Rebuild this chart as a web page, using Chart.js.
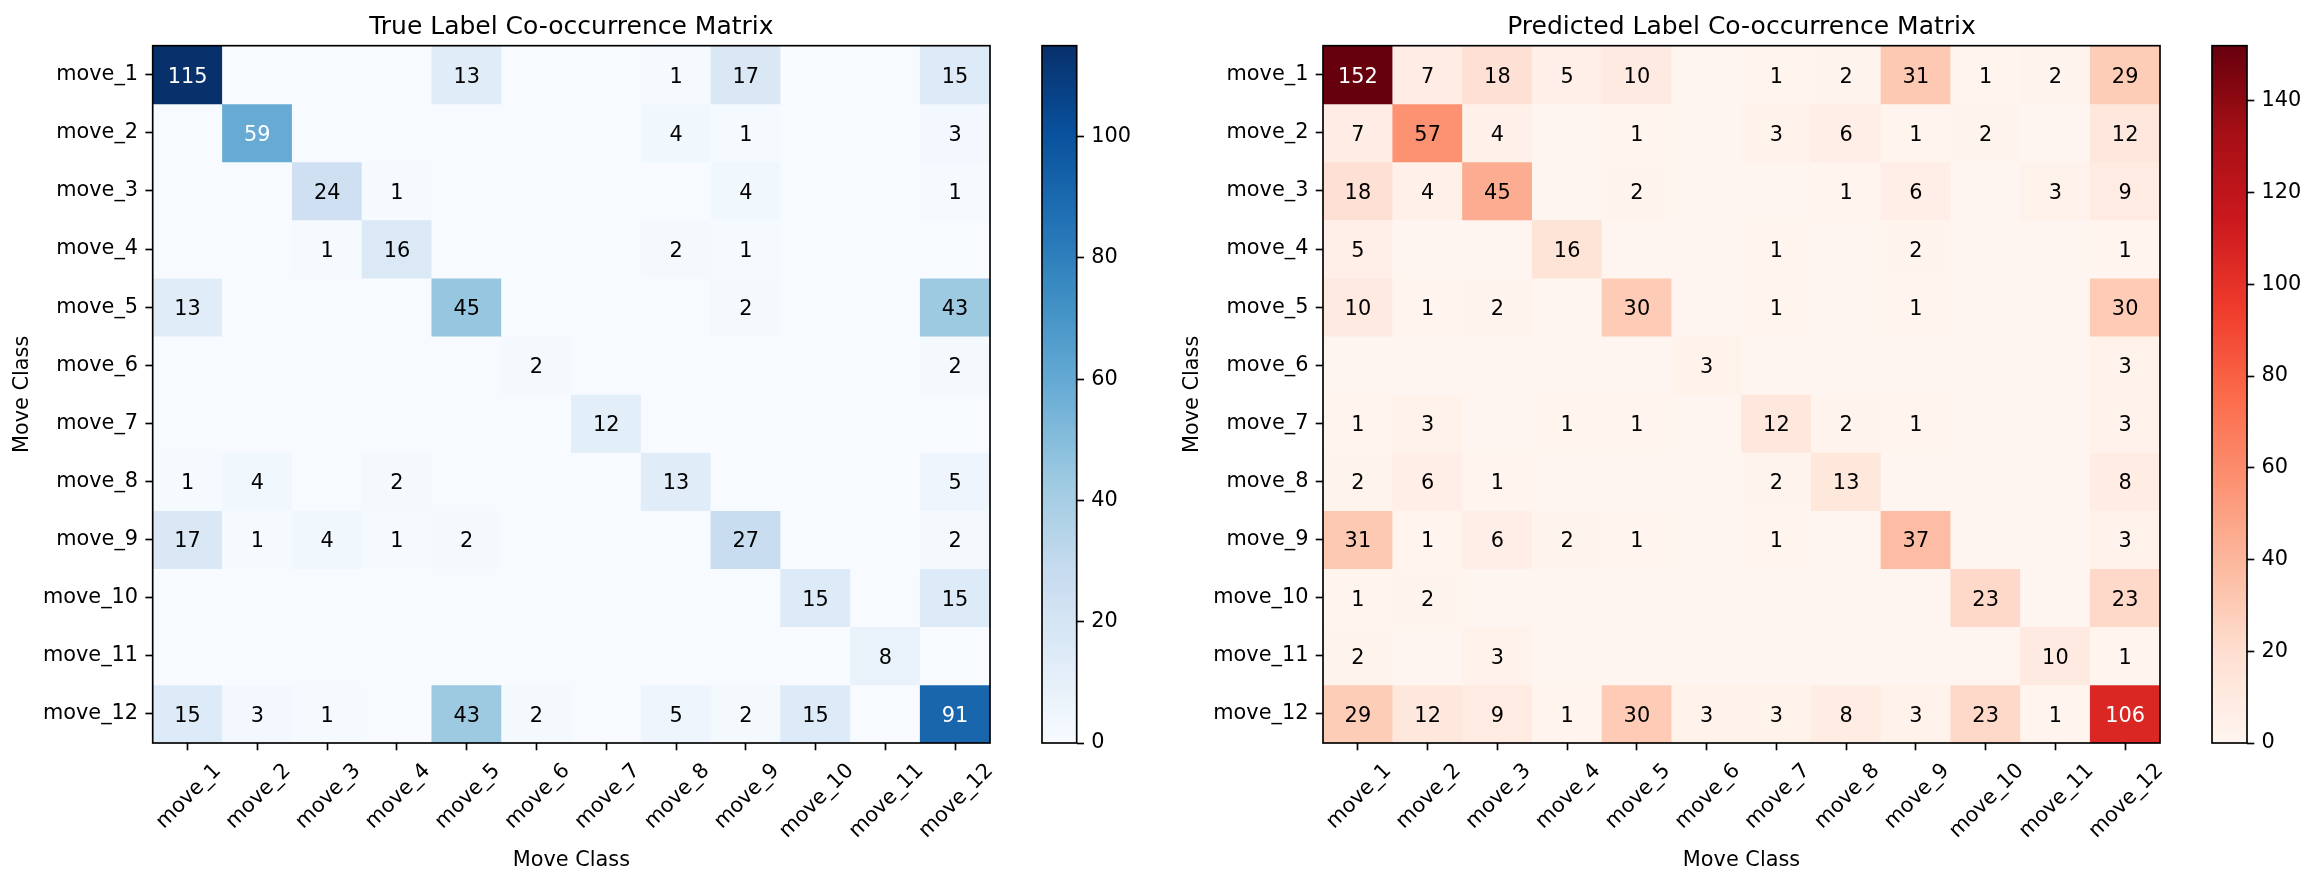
<!DOCTYPE html>
<html>
<head>
<meta charset="utf-8">
<title>Label Co-occurrence Matrices</title>
<script src="https://cdn.jsdelivr.net/npm/chart.js@4.4.1/dist/chart.umd.min.js"></script>
<style>
  html, body { margin: 0; padding: 0; background: #fff; }
  #wrap { position: relative; width: 2316px; height: 884px; overflow: hidden; }
  .box { position: absolute; top: 0; height: 884px; }
</style>
</head>
<body>
<div id="wrap">
  <div class="box" style="left:0;width:1030px"><canvas id="trueMat"></canvas></div>
  <div class="box" style="left:1030px;width:130px"><canvas id="trueBar"></canvas></div>
  <div class="box" style="left:1160px;width:1040px"><canvas id="predMat"></canvas></div>
  <div class="box" style="left:2200px;width:116px"><canvas id="predBar"></canvas></div>
</div>
<script>
// ── Data ──────────────────────────────────────────────────────────────────────

const classes = ['move_1', 'move_2', 'move_3', 'move_4', 'move_5', 'move_6',
                 'move_7', 'move_8', 'move_9', 'move_10', 'move_11', 'move_12'];

const trueCounts = [
    [115,  0,  0,  0, 13,  0,  0,  1, 17,  0,  0, 15],
    [  0, 59,  0,  0,  0,  0,  0,  4,  1,  0,  0,  3],
    [  0,  0, 24,  1,  0,  0,  0,  0,  4,  0,  0,  1],
    [  0,  0,  1, 16,  0,  0,  0,  2,  1,  0,  0,  0],
    [ 13,  0,  0,  0, 45,  0,  0,  0,  2,  0,  0, 43],
    [  0,  0,  0,  0,  0,  2,  0,  0,  0,  0,  0,  2],
    [  0,  0,  0,  0,  0,  0, 12,  0,  0,  0,  0,  0],
    [  1,  4,  0,  2,  0,  0,  0, 13,  0,  0,  0,  5],
    [ 17,  1,  4,  1,  2,  0,  0,  0, 27,  0,  0,  2],
    [  0,  0,  0,  0,  0,  0,  0,  0,  0, 15,  0, 15],
    [  0,  0,  0,  0,  0,  0,  0,  0,  0,  0,  8,  0],
    [ 15,  3,  1,  0, 43,  2,  0,  5,  2, 15,  0, 91]
];

const predCounts = [
    [152,  7, 18,  5, 10,  0,  1,  2, 31,  1,  2, 29],
    [  7, 57,  4,  0,  1,  0,  3,  6,  1,  2,  0, 12],
    [ 18,  4, 45,  0,  2,  0,  0,  1,  6,  0,  3,  9],
    [  5,  0,  0, 16,  0,  0,  1,  0,  2,  0,  0,  1],
    [ 10,  1,  2,  0, 30,  0,  1,  0,  1,  0,  0, 30],
    [  0,  0,  0,  0,  0,  3,  0,  0,  0,  0,  0,  3],
    [  1,  3,  0,  1,  1,  0, 12,  2,  1,  0,  0,  3],
    [  2,  6,  1,  0,  0,  0,  2, 13,  0,  0,  0,  8],
    [ 31,  1,  6,  2,  1,  0,  1,  0, 37,  0,  0,  3],
    [  1,  2,  0,  0,  0,  0,  0,  0,  0, 23,  0, 23],
    [  2,  0,  3,  0,  0,  0,  0,  0,  0,  0, 10,  1],
    [ 29, 12,  9,  1, 30,  3,  3,  8,  3, 23,  1, 106]
];

const trueBarTicks = [0, 20, 40, 60, 80, 100];
const predBarTicks = [0, 20, 40, 60, 80, 100, 120, 140];

// matplotlib Blues / Reds anchor colours
const BLUES = ['#f7fbff', '#deebf7', '#c6dbef', '#9ecae1', '#6baed6', '#4292c6', '#2171b5', '#08519c', '#08306b'];
const REDS  = ['#fff5f0', '#fee0d2', '#fcbba1', '#fc9272', '#fb6a4a', '#ef3b2c', '#cb181d', '#a50f15', '#67000d'];

// ── Helpers ───────────────────────────────────────────────────────────────────

const FONT   = 'DejaVu Sans';
const FS     = 20.83;   // 10pt @150dpi
const TICK   = 7.3;     // tick length / pad
const LINE_W = 1.67;

Chart.defaults.font.family = FONT;
Chart.defaults.color = '#000';

function hexRgb(h) {
    return [1, 3, 5].map(i => parseInt(h.substr(i, 2), 16));
}

function cmap(stops, t) {
    t = Math.max(0, Math.min(1, t));
    const pos = t * (stops.length - 1);
    const i = Math.min(Math.floor(pos), stops.length - 2);
    const f = pos - i;
    const a = hexRgb(stops[i]), b = hexRgb(stops[i + 1]);
    const c = a.map((v, k) => Math.round(v + (b[k] - v) * f));
    return `rgb(${c[0]},${c[1]},${c[2]})`;
}

function frame(ctx, a) {
    ctx.save();
    ctx.strokeStyle = '#000';
    ctx.lineWidth = LINE_W;
    ctx.strokeRect(a.left, a.top, a.right - a.left, a.bottom - a.top);
    ctx.restore();
}

// ── Heatmap ───────────────────────────────────────────────────────────────────

function matrixChart(id, counts, stops, title, axisW) {
    const vmax = Math.max(...counts.flat());

    const datasets = counts.map((row, r) => ({
        label:              classes[r],
        data:               row.map(() => [r - 0.5, r + 0.5]),
        backgroundColor:    row.map(v => cmap(stops, v / vmax)),
        borderWidth:        0,
        barPercentage:      1,
        categoryPercentage: 1,
        grouped:            false
    }));

    const annotate = {
        id: 'annotate',
        afterDatasetsDraw(chart) {
            const { ctx, chartArea: a, scales: { x, y } } = chart;
            ctx.save();
            ctx.font = `${FS}px "${FONT}"`;
            ctx.textAlign = 'center';
            ctx.textBaseline = 'alphabetic';
            counts.forEach((row, r) => row.forEach((v, c) => {
                if (!v) return;
                ctx.fillStyle = v > vmax / 2 ? '#fff' : '#000';
                ctx.fillText(String(v), x.getPixelForValue(c), y.getPixelForValue(r) + 0.375 * FS);
            }));
            ctx.restore();
            frame(ctx, a);
        },
        afterDraw(chart) {
            const { ctx, chartArea: a, scales: { x } } = chart;
            const cx = (a.left + a.right) / 2;
            ctx.save();
            ctx.fillStyle = '#000';

            // rotated x tick labels, centred on the tick like matplotlib
            ctx.font = `${FS}px "${FONT}"`;
            const h = 1.164 * FS;
            classes.forEach((name, i) => {
                const w = ctx.measureText(name).width;
                const side = (w + h) * Math.SQRT1_2;
                ctx.save();
                ctx.translate(x.getPixelForValue(i), a.bottom + 2 * TICK + side / 2);
                ctx.rotate(-Math.PI / 4);
                ctx.textAlign = 'center';
                ctx.textBaseline = 'alphabetic';
                ctx.fillText(name, 0, 0.346 * FS);
                ctx.restore();
            });

            // axis labels
            ctx.textAlign = 'center';
            ctx.textBaseline = 'alphabetic';
            ctx.fillText('Move Class', cx, 866);
            ctx.save();
            ctx.translate(a.left - 130, (a.top + a.bottom) / 2);
            ctx.rotate(-Math.PI / 2);
            ctx.textBaseline = 'middle';
            ctx.fillText('Move Class', 0, 0);
            ctx.restore();

            // title
            ctx.font = `25px "${FONT}"`;
            ctx.fillText(title, cx, 34);
            ctx.restore();
        }
    };

    return new Chart(document.getElementById(id), {
        type: 'bar',
        data: { labels: classes, datasets },
        plugins: [annotate],
        options: {
            responsive:          true,
            maintainAspectRatio: false,
            devicePixelRatio:    1,
            animation:           false,
            events:              [],
            layout: { padding: { top: 45.7, right: 40, left: 0, bottom: 0 } },
            plugins: { legend: { display: false }, tooltip: { enabled: false }, title: { display: false } },
            scales: {
                x: {
                    type:    'category',
                    offset:  true,
                    grid:    { offset: false, drawOnChartArea: false, tickLength: TICK, tickWidth: LINE_W, tickColor: '#000' },
                    border:  { display: false },
                    ticks:   { display: false },
                    afterFit: s => { s.height = 141; }
                },
                y: {
                    type:    'linear',
                    min:     -0.5,
                    max:     11.5,
                    reverse: true,
                    grid:    { drawOnChartArea: false, tickLength: TICK, tickWidth: LINE_W, tickColor: '#000' },
                    border:  { display: false },
                    ticks:   { color: '#000', font: { size: FS }, padding: TICK, callback: v => classes[v] },
                    afterBuildTicks: s => { s.ticks = classes.map((_, i) => ({ value: i })); },
                    afterFit: s => { s.width = axisW; }
                }
            }
        }
    });
}

// ── Colorbar ──────────────────────────────────────────────────────────────────

function colorbarChart(id, counts, stops, tickVals, padLeft, axisW) {
    const vmax = Math.max(...counts.flat());

    const fill = context => {
        const { chart } = context;
        if (!chart.chartArea) return stops[0];
        const y = chart.scales.y;
        const g = chart.ctx.createLinearGradient(0, y.getPixelForValue(0), 0, y.getPixelForValue(vmax));
        stops.forEach((c, i) => g.addColorStop(i / (stops.length - 1), c));
        return g;
    };

    const border = {
        id: 'cbFrame',
        afterDatasetsDraw(chart) { frame(chart.ctx, chart.chartArea); }
    };

    return new Chart(document.getElementById(id), {
        type: 'bar',
        data: {
            labels: ['scale'],
            datasets: [{ data: [[0, vmax]], backgroundColor: fill, borderWidth: 0, barPercentage: 1, categoryPercentage: 1 }]
        },
        plugins: [border],
        options: {
            responsive:          true,
            maintainAspectRatio: false,
            devicePixelRatio:    1,
            animation:           false,
            events:              [],
            layout: { padding: { top: 45.7, bottom: 141, left: padLeft, right: 0 } },
            plugins: { legend: { display: false }, tooltip: { enabled: false } },
            scales: {
                x: { display: false },
                y: {
                    position: 'right',
                    min:      0,
                    max:      vmax,
                    grid:     { drawOnChartArea: false, tickLength: TICK, tickWidth: LINE_W, tickColor: '#000' },
                    border:   { display: false },
                    ticks:    { color: '#000', font: { size: FS }, padding: TICK },
                    afterBuildTicks: s => { s.ticks = tickVals.map(v => ({ value: v })); },
                    afterFit: s => { s.width = axisW; }
                }
            }
        }
    });
}

matrixChart('trueMat', trueCounts, BLUES, 'True Label Co-occurrence Matrix', 152.7);
colorbarChart('trueBar', trueCounts, BLUES, trueBarTicks, 12, 83.3);
matrixChart('predMat', predCounts, REDS, 'Predicted Label Co-occurrence Matrix', 163);
colorbarChart('predBar', predCounts, REDS, predBarTicks, 12, 69);
</script>
</body>
</html>
